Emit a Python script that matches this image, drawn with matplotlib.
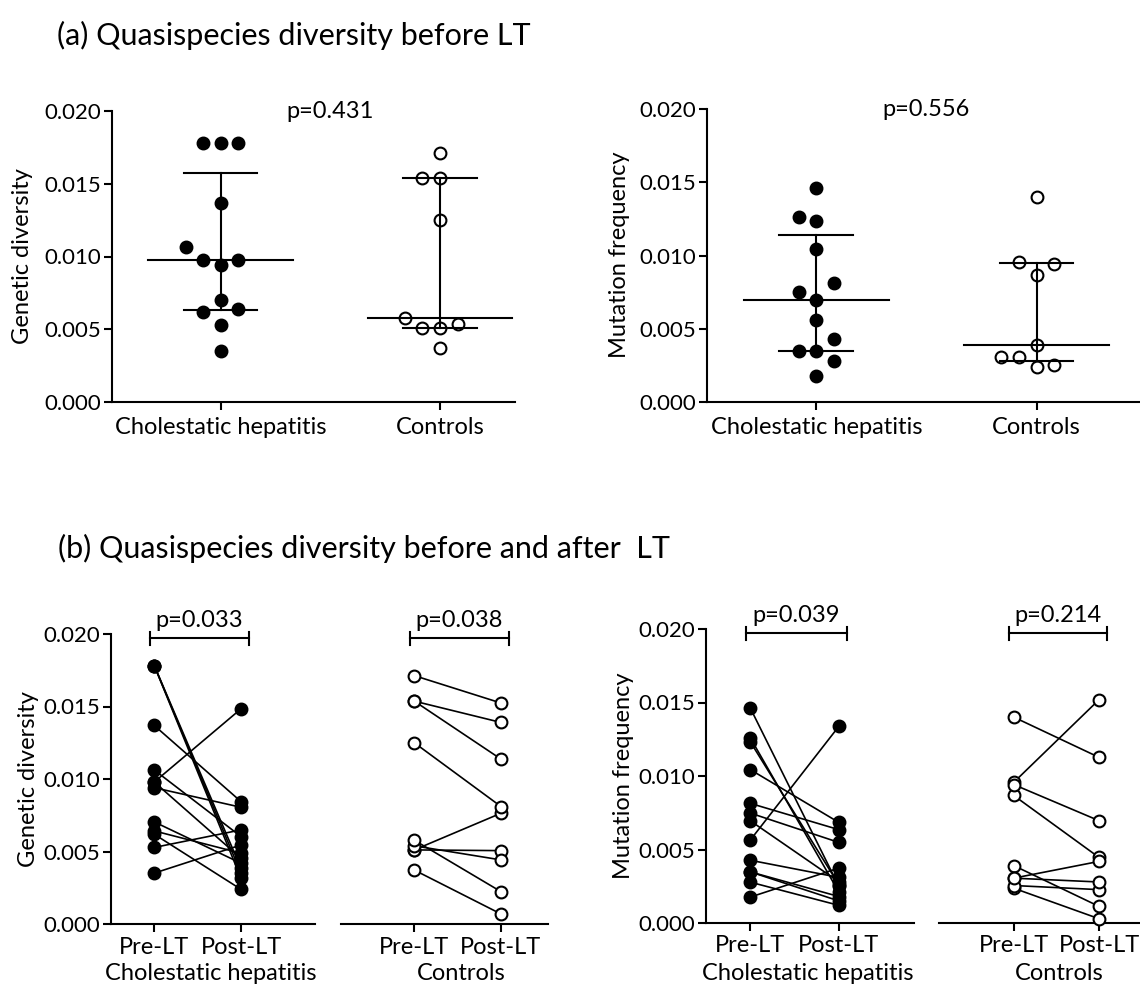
import numpy as np
import matplotlib
matplotlib.use('Agg')
import matplotlib.pyplot as plt
from matplotlib.ticker import FormatStrFormatter
from matplotlib import transforms

plt.rcParams['font.family'] = ['Lato', 'DejaVu Sans']

# patients listed in the same order in the pre and post lists
gd_chol_pre = [0.00351, 0.00528, 0.00619, 0.00642, 0.00704, 0.0094, 0.00979, 0.00979, 0.01062, 0.01369, 0.01782, 0.01782, 0.01782]
gd_chol_post = [0.00545, 0.00649, 0.00239, 0.00488, 0.00419, 0.00805, 0.01484, 0.00453, 0.00603, 0.00844, 0.00384, 0.0035, 0.00315]
gd_ctrl_pre = [0.00372, 0.00511, 0.00511, 0.00539, 0.00578, 0.0125, 0.01537, 0.01537, 0.01713]
gd_ctrl_post = [0.00069, 0.00764, 0.00506, 0.00442, 0.00223, 0.0081, 0.0139, 0.01137, 0.01524]
mf_chol_pre = [0.01464, 0.01234, 0.01261, 0.01044, 0.00696, 0.00748, 0.00814, 0.00563, 0.00348, 0.00348, 0.00427, 0.00278, 0.00176]
mf_chol_post = [0.0025, 0.0026, 0.0021, 0.00684, 0.0028, 0.00548, 0.00635, 0.01338, 0.0018, 0.0015, 0.0031, 0.0012, 0.00374]
mf_ctrl_pre = [0.01401, 0.00868, 0.00956, 0.00942, 0.00391, 0.00237, 0.00305, 0.00255, 0.00305]
mf_ctrl_post = [0.01127, 0.00446, 0.01519, 0.00696, 0.00113, 0.00029, 0.00419, 0.00227, 0.00279]

groups = ['Cholestatic hepatitis', 'Controls']
times = ['Pre-LT', 'Post-LT']
p_before = ['p=0.431', 'p=0.556']
p_paired = [['p=0.033', 'p=0.038'], ['p=0.039', 'p=0.214']]
ylabels = ['Genetic diversity', 'Mutation frequency']

W, H = 1140, 985
fig = plt.figure(figsize=(W / 100, H / 100), dpi=100)
FS = 17


def add_ax(x0, x1, ytop, ybot, xlim):
    ax = fig.add_axes([x0 / W, 1 - ybot / H, (x1 - x0) / W, (ybot - ytop) / H])
    ax.set_xlim(*xlim)
    ax.set_ylim(0, 0.02)
    ax.patch.set_alpha(0)
    for s in ['top', 'right']:
        ax.spines[s].set_visible(False)
    for s in ['left', 'bottom']:
        ax.spines[s].set_linewidth(1.5)
    ax.set_yticks([0, 0.005, 0.01, 0.015, 0.02])
    ax.yaxis.set_major_formatter(FormatStrFormatter('%.3f'))
    ax.tick_params(length=6, width=1.5, labelsize=16, pad=2)
    return ax


def swarm(vals, thr=0.00128):
    # put each point in the nearest free column slot
    slots = [0, -1, 1, -2, 2, -3, 3]
    placed = []
    out = []
    for v in vals:
        for s in slots:
            if all(not (ps == s and abs(pv - v) < thr) for ps, pv in placed):
                break
        placed.append((s, v))
        out.append(s)
    return np.array(out)


def marker_style(filled):
    return dict(ms=8.5, mec='black', mew=1.5, mfc='black' if filled else 'white', ls='none')


def column_panel(ax, data, ptext):
    for i, vals in enumerate(data):
        vals = np.array(vals)
        xs = i + 0.08 * swarm(vals)
        ax.plot(xs, vals, 'o', clip_on=False, zorder=2, **marker_style(i == 0))
        q1, med, q3 = np.percentile(vals, [25, 50, 75], method='weibull')
        kw = dict(color='black', lw=1.5, zorder=3)
        ax.plot([i - 0.33, i + 0.33], [med, med], **kw)
        ax.plot([i - 0.167, i + 0.167], [q1, q1], **kw)
        ax.plot([i - 0.167, i + 0.167], [q3, q3], **kw)
        ax.plot([i, i], [q1, q3], **kw)
    ax.set_xticks([0, 1])
    ax.set_xticklabels(groups, fontsize=FS)
    ax.tick_params(axis='x', pad=5)
    ax.text(0.5, 0.02, ptext, ha='center', va='center', fontsize=FS)


def paired_panel(ax, pre, post, filled, ptext, group, label_x):
    for a, b in zip(pre, post):
        ax.plot([0, 1], [a, b], color='black', lw=1.2, zorder=2)
    ax.plot(np.zeros(len(pre)), pre, 'o', clip_on=False, zorder=3, **marker_style(filled))
    ax.plot(np.ones(len(post)), post, 'o', clip_on=False, zorder=3, **marker_style(filled))
    ax.set_xticks([0, 1])
    ax.set_xticklabels(times, fontsize=FS)
    ax.tick_params(axis='x', pad=3)
    x0, x1, y, h = -0.05, 1.09, 0.0197, 0.00045
    kw = dict(color='black', lw=1.5, clip_on=False)
    ax.plot([x0, x1], [y, y], **kw)
    ax.plot([x0, x0], [y - h, y + h], **kw)
    ax.plot([x1, x1], [y - h, y + h], **kw)
    ax.text((x0 + x1) / 2, 0.0209, ptext, ha='center', va='center', fontsize=FS)
    tr = transforms.blended_transform_factory(ax.transData, fig.transFigure)
    ax.text(label_x, 1 - 973 / H, group, transform=tr, ha='center', va='center', fontsize=FS)


def hide_y(ax):
    ax.spines['left'].set_visible(False)
    ax.tick_params(axis='y', left=False, labelleft=False)


# (a) before LT
axa1 = add_ax(112, 515, 111, 402, (-0.496, 1.342))
column_panel(axa1, [gd_chol_pre, gd_ctrl_pre], p_before[0])
axa2 = add_ax(707, 1140, 109, 402, (-0.496, 1.469))
column_panel(axa2, [mf_chol_pre, mf_ctrl_pre], p_before[1])

# (b) before and after LT
axb1 = add_ax(111, 315, 634, 924, (-0.499, 1.853))
paired_panel(axb1, gd_chol_pre, gd_chol_post, True, p_paired[0][0], groups[0], 0.65)
axb2 = add_ax(341, 548, 634, 924, (-0.845, 1.542))
paired_panel(axb2, gd_ctrl_pre, gd_ctrl_post, False, p_paired[0][1], groups[1], 0.54)
hide_y(axb2)
axb3 = add_ax(706, 914, 629, 923, (-0.498, 1.847))
paired_panel(axb3, mf_chol_pre, mf_chol_post, True, p_paired[1][0], groups[0], 0.65)
axb4 = add_ax(939, 1140, 629, 923, (-0.874, 1.48))
paired_panel(axb4, mf_ctrl_pre, mf_ctrl_post, False, p_paired[1][1], groups[1], 0.54)
hide_y(axb4)

# axis titles and panel headings
for x, yc, lab in [(23, 256, ylabels[0]), (619, 255, ylabels[1]),
                   (29, 779, ylabels[0]), (623, 776, ylabels[1])]:
    fig.text(x / W, 1 - yc / H, lab, rotation=90, ha='center', va='center', fontsize=FS)

fig.text(57 / W, 1 - 45 / H, '(a) Quasispecies diversity before LT', fontsize=22, va='baseline')
fig.text(58 / W, 1 - 558 / H, '(b) Quasispecies diversity before and after  LT', fontsize=22, va='baseline')

fig.savefig('out.png', dpi=100, facecolor='white')
